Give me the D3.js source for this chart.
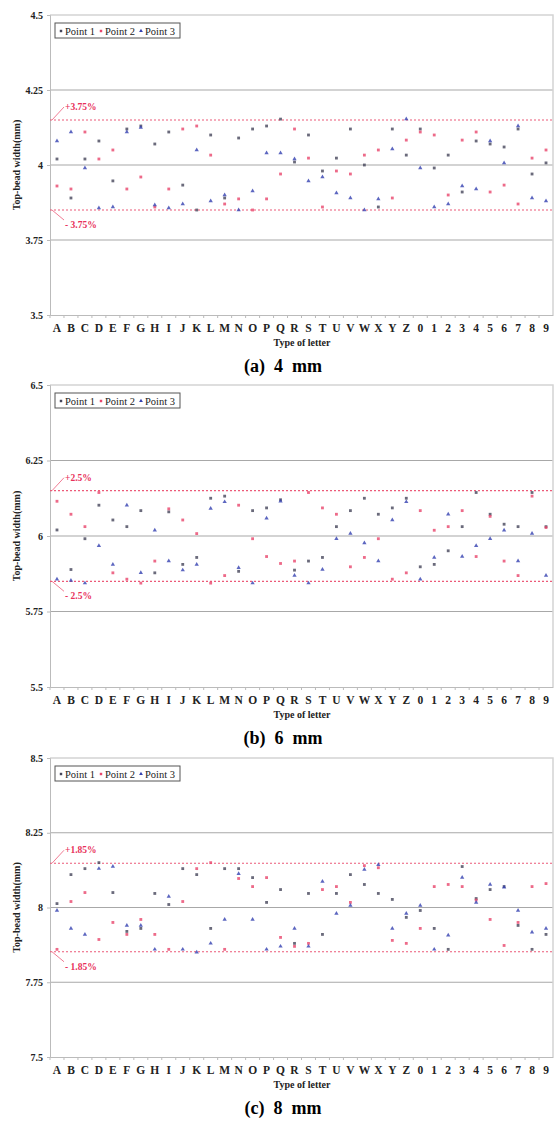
<!DOCTYPE html>
<html lang="en">
<head>
    <meta charset="UTF-8">
    <title>Top-bead width</title>
    <script src="https://d3js.org/d3.v7.min.js"></script>
    <style>
        body { margin: 0; background: #fff; }
        text { font-family: "Liberation Serif", "Times New Roman", serif; }
    </style>
</head>
<body>
<script>
    // categories on the x axis
    var categories = ["A","B","C","D","E","F","G","H","I","J","K","L","M","N","O","P","Q","R","S","T","U","V","W","X","Y","Z","0","1","2","3","4","5","6","7","8","9"];

    // (a) 4 mm
    var p1_4 = [4.02,3.89,4.02,4.08,3.947,4.12,4.13,4.07,4.11,3.933,3.85,4.10,3.89,4.09,4.12,4.13,4.153,4.01,4.10,3.98,4.023,4.12,4.00,3.86,4.12,4.033,4.12,3.99,4.033,3.91,4.08,4.07,4.06,4.12,3.97,4.007];
    var p2_4 = [3.93,3.92,4.11,4.02,4.05,3.92,3.96,3.86,3.92,4.12,4.13,4.033,3.87,3.887,3.85,3.887,3.97,4.12,4.023,3.86,3.98,3.97,4.033,4.05,3.89,4.083,4.11,4.10,3.90,4.083,4.11,3.91,3.933,3.87,4.023,4.05];
    var p3_4 = [4.08,4.11,3.99,3.857,3.86,4.11,4.125,3.867,3.857,3.87,4.05,3.88,3.90,3.85,3.913,4.04,4.04,4.02,3.947,3.96,3.907,3.89,3.85,3.887,4.053,4.153,3.99,3.86,3.87,3.93,3.92,4.08,4.007,4.13,3.89,3.88];

    // (b) 6 mm
    var p1_6 = [6.02,5.889,5.991,6.102,6.053,6.031,6.084,5.878,6.08,5.906,5.929,6.125,6.132,5.883,6.084,6.093,6.12,5.887,5.917,5.929,6.031,6.084,6.125,6.072,6.093,6.125,5.898,5.906,5.951,6.031,6.144,6.072,6.039,6.031,6.144,6.031];
    var p2_6 = [6.115,6.072,6.031,6.144,5.878,5.857,5.844,5.917,6.09,6.053,6.008,5.844,5.869,6.102,5.991,5.932,5.909,5.917,6.144,6.093,6.072,5.898,5.929,5.991,5.857,5.878,6.084,6.019,6.031,6.084,5.932,6.065,5.917,5.869,6.132,6.028];
    var p3_6 = [5.857,5.853,5.844,5.968,5.906,6.102,5.878,6.019,5.917,5.887,5.906,6.091,6.113,5.895,5.844,6.059,6.115,5.869,5.844,5.889,5.991,6.008,5.977,5.917,6.053,6.113,5.857,5.929,6.072,5.932,5.968,5.991,6.019,5.917,6.008,5.869];

    // (c) 8 mm
    var p1_8 = [8.013,8.11,8.13,8.15,8.05,7.92,7.93,8.047,8.01,8.13,8.11,7.93,8.13,8.13,8.10,8.017,8.06,7.88,8.047,7.91,8.047,8.11,8.077,8.047,8.027,7.967,7.99,7.93,7.86,8.137,8.03,8.06,8.07,7.94,7.86,7.91];
    var p2_8 = [7.86,8.02,8.05,7.893,7.95,7.91,7.96,7.91,7.86,8.02,8.13,8.15,7.86,8.097,8.07,8.10,7.90,7.87,7.88,8.06,8.07,8.017,8.14,8.133,7.89,7.88,7.93,8.07,8.077,8.07,8.025,7.96,7.873,7.95,8.07,8.08];
    var p3_8 = [7.99,7.93,7.91,8.13,8.137,7.94,7.94,7.86,8.037,7.86,7.85,7.88,7.96,8.113,7.96,7.86,7.87,7.93,7.87,8.087,7.98,8.007,8.127,8.143,7.93,7.98,8.007,7.86,7.907,8.10,8.017,8.077,8.068,7.99,7.917,7.93];

    var ticks4 = [3.5, 3.75, 4, 4.25, 4.5];
    var ticks6 = [5.5, 5.75, 6, 6.25, 6.5];
    var ticks8 = [7.5, 7.75, 8, 8.25, 8.5];
    var seriesNames = ["Point 1", "Point 2", "Point 3"];

    var panels = [
        { series: [p1_4, p2_4, p3_4], ticks: ticks4, nominal: 4, pct: 3.75, label: "3.75%", caption: "(a)  4  mm", top: 15, bottom: 315 },
        { series: [p1_6, p2_6, p3_6], ticks: ticks6, nominal: 6, pct: 2.5, label: "2.5%", caption: "(b)  6  mm", top: 385, bottom: 687 },
        { series: [p1_8, p2_8, p3_8], ticks: ticks8, nominal: 8, pct: 1.85, label: "1.85%", caption: "(c)  8  mm", top: 758, bottom: 1057 }
    ];

    var colors = ["#45455a", "#e8456c", "#3340b0"];
    var shapes = [d3.symbolSquare, d3.symbolSquare, d3.symbolTriangle];
    var sizes = [8, 8, 8];
    var left = 50, right = 553;

    var svg = d3.select("body").append("svg").attr("width", 557).attr("height", 1122);

    panels.forEach(function (p) {
        var g = svg.append("g");
        var x = d3.scaleBand().domain(categories).range([left, right]);
        var y = d3.scaleLinear().domain([p.ticks[0], p.ticks[p.ticks.length - 1]]).range([p.bottom, p.top]);

        // grid lines
        g.append("g").selectAll("line").data(p.ticks.slice(1, -1)).enter().append("line")
            .attr("x1", left).attr("x2", right)
            .attr("y1", function (d) { return y(d); }).attr("y2", function (d) { return y(d); })
            .attr("stroke", "#a8a8a8").attr("stroke-width", 1.2);

        // plot frame (top + right)
        g.append("path")
            .attr("d", "M" + left + "," + y(p.ticks[p.ticks.length - 1]) + "H" + right + "V" + y(p.ticks[0]))
            .attr("fill", "none").attr("stroke", "#d4d4d4").attr("stroke-width", 1.5);

        // y axis
        var yAxis = d3.axisLeft(y).tickValues(p.ticks).tickSize(3).tickFormat(function (d) { return d; });
        var ya = g.append("g").attr("transform", "translate(" + left + ",0)").call(yAxis);
        ya.select(".domain").attr("stroke", "#bbb");
        ya.selectAll(".tick line").attr("stroke", "#bbb");
        ya.selectAll("text").attr("font-size", 10).attr("font-weight", "bold").attr("fill", "#222")
            .attr("x", -7).attr("font-family", "Liberation Serif");

        // x axis
        var xAxis = d3.axisBottom(x).tickSize(0).tickPadding(9);
        var xa = g.append("g").attr("transform", "translate(0," + p.bottom + ")").call(xAxis);
        xa.select(".domain").attr("stroke", "#bbb");
        xa.selectAll("text").attr("font-size", 11.5).attr("font-weight", "bold").attr("fill", "#222")
            .attr("font-family", "Liberation Serif");
        xa.append("g").selectAll("line").data(categories).enter().append("line")
            .attr("x1", function (d) { return x(d); }).attr("x2", function (d) { return x(d); })
            .attr("y1", 0).attr("y2", 3).attr("stroke", "#bbb");

        g.append("text").attr("x", 302).attr("y", p.bottom + 31).attr("text-anchor", "middle")
            .attr("font-size", 10).attr("font-weight", "bold").attr("fill", "#222").text("Type of letter");

        g.append("text").attr("transform", "translate(20," + (p.top + p.bottom) / 2 + ") rotate(-90)")
            .attr("text-anchor", "middle").attr("font-size", 10).attr("font-weight", "bold").attr("fill", "#222")
            .text("Top-bead width(mm)");

        g.append("text").attr("x", 283).attr("y", p.bottom + 57).attr("text-anchor", "middle")
            .attr("font-size", 18).attr("font-weight", "bold").attr("fill", "#000").attr("xml:space", "preserve")
            .text(p.caption);

        // tolerance lines
        var hi = p.nominal * (1 + p.pct / 100), lo = p.nominal * (1 - p.pct / 100);
        [hi, lo].forEach(function (v, i) {
            g.append("line").attr("x1", left).attr("x2", right).attr("y1", y(v)).attr("y2", y(v))
                .attr("stroke", "#ec5a78").attr("stroke-width", 1.2).attr("stroke-dasharray", "2,2");
            var ty = i == 0 ? y(v) - 14 : y(v) + 14;
            g.append("line").attr("x1", left + 2).attr("y1", y(v)).attr("x2", left + 14).attr("y2", i == 0 ? ty + 1 : ty - 4)
                .attr("stroke", "#ec5a78").attr("stroke-width", 0.8);
            g.append("text").attr("x", left + 15).attr("y", ty + 4).attr("font-size", 9.5).attr("font-weight", "bold")
                .attr("fill", "#e8305a").text((i == 0 ? "+" : "- ") + p.label);
        });

        // data points
        p.series.forEach(function (s, si) {
            g.append("g").selectAll("path").data(s).enter().append("path")
                .attr("d", d3.symbol().type(shapes[si]).size(sizes[si]))
                .attr("transform", function (d, i) { return "translate(" + (x(categories[i]) + x.bandwidth() / 2) + "," + y(d) + ")"; })
                .attr("fill", colors[si]).attr("opacity", 0.8);
        });

        // legend
        var lg = g.append("g").attr("transform", "translate(55," + (p.top + 8) + ")");
        lg.append("rect").attr("width", 125).attr("height", 15).attr("fill", "#fff").attr("stroke", "#555").attr("stroke-width", 1);
        var lx = [6, 46, 86];
        seriesNames.forEach(function (n, si) {
            lg.append("path").attr("d", d3.symbol().type(shapes[si]).size(6))
                .attr("transform", "translate(" + lx[si] + ",8)").attr("fill", colors[si]);
            lg.append("text").attr("x", lx[si] + 4).attr("y", 11.5).attr("font-size", 10.5).attr("fill", "#222").text(n);
        });
    });
</script>
</body>
</html>
